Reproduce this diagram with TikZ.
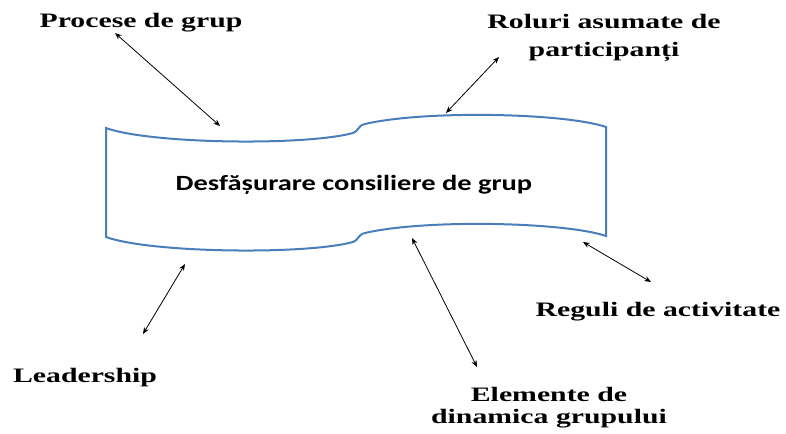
\documentclass[tikz,border=0pt]{standalone}
\usepackage{fontspec}
\usepackage{graphicx}
\setmainfont{Liberation Serif}
\newfontfamily\calfont{Carlito}
\usetikzlibrary{arrows.meta}
\definecolor{bandblue}{RGB}{74,126,187}
\newcommand{\widetext}[2]{\scalebox{#1}[1]{#2}}
\tikzset{
  lbl/.style={anchor=base, inner sep=0pt, font=\bfseries\fontsize{15.4}{21}\selectfont},
  lbltwo/.style={anchor=base, inner sep=0pt, font=\bfseries\fontsize{15.4}{16.5}\selectfont},
  conn/.style={black, line width=0.6pt, {Stealth[length=5pt,width=4pt]}-{Stealth[length=5pt,width=4pt]}},
  band/.style={draw=bandblue, line width=1.5pt, line join=miter}
}
\begin{document}
\begin{tikzpicture}[x=0.75pt,y=-0.75pt]
\useasboundingbox (0,0) rectangle (786,434);
% banner shape
\draw[band] (106,128) .. controls (150,144) and (305,146) .. (353,133)
  .. controls (359,131) and (357,126) .. (365,124)
  .. controls (425,110) and (565,113) .. (606,127)
  -- (606,236)
  .. controls (565,222) and (425,219) .. (365,233)
  .. controls (357,235) and (359,240) .. (353,242)
  .. controls (305,255) and (150,253) .. (106,237) -- cycle;
\node (center) [anchor=base, inner sep=0pt, font=\calfont\bfseries\fontsize{16.3}{20}\selectfont] at (354,191) {\widetext{1.31}{Desfășurare consiliere de grup}};
% labels
\node (proc) [lbl] at (141,28) {\widetext{1.45}{Procese de grup}};
\node (rol) [lbl] at (604,29) {\widetext{1.45}{\begin{tabular}[t]{@{}c@{}}Roluri asumate de\\participanți\end{tabular}}};
\node (lead) [lbl] at (85,383) {\widetext{1.45}{Leadership}};
\node (reg) [lbl] at (658,317) {\widetext{1.45}{Reguli de activitate}};
\node (elem) [lbltwo] at (549,402) {\widetext{1.45}{\begin{tabular}[t]{@{}c@{}}Elemente de\\dinamica grupului\end{tabular}}};
% connector end points
\coordinate (p1) at (115,33);  \coordinate (p2) at (220,126);
\coordinate (r1) at (499,57);  \coordinate (r2) at (446,113);
\coordinate (l1) at (185,264); \coordinate (l2) at (143,334);
\coordinate (e1) at (412,238); \coordinate (e2) at (477,367);
\coordinate (g1) at (583,242); \coordinate (g2) at (651,282);
\draw[conn] (p1) -- (p2);
\draw[conn] (r1) -- (r2);
\draw[conn] (l1) -- (l2);
\draw[conn] (e1) -- (e2);
\draw[conn] (g1) -- (g2);
\end{tikzpicture}
\end{document}
